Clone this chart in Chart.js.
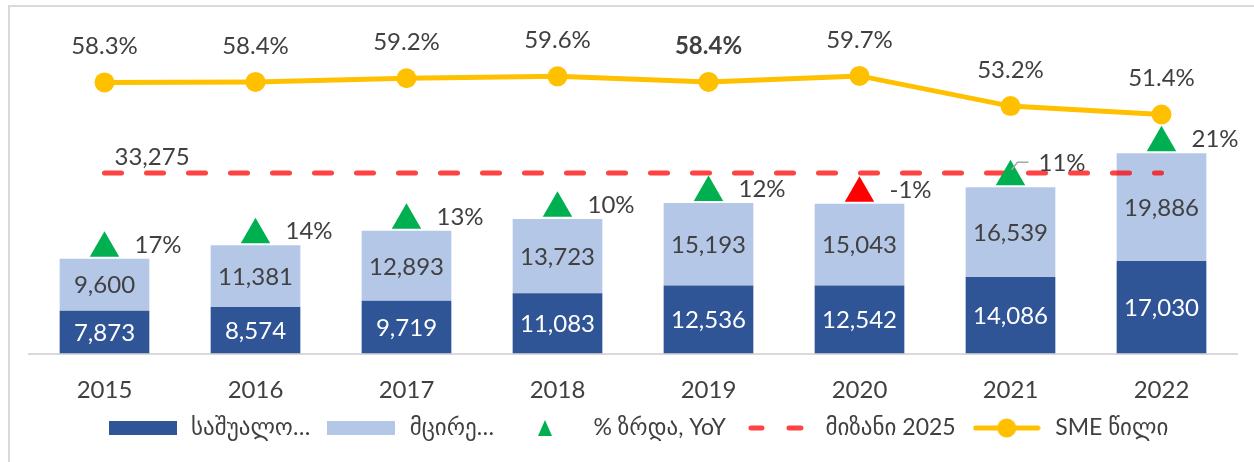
<!DOCTYPE html>
<html><head><meta charset="utf-8">
<script src="https://cdn.jsdelivr.net/npm/chart.js@4.4.1/dist/chart.umd.min.js"></script>
<style>
html,body{margin:0;padding:0;background:#fff;}
#wrap{position:relative;width:1254px;height:462px;overflow:hidden;background:#fff;}
#frame{position:absolute;left:8px;top:5px;width:1400px;height:600px;border:2px solid #D9D9D9;box-sizing:border-box;}
#c{position:absolute;left:0;top:0;}
</style></head><body>
<div id="wrap"><div id="frame"></div><canvas id="c" width="1254" height="462"></canvas></div>
<script>
// ---- data ----
const years = ['2015', '2016', '2017', '2018', '2019', '2020', '2021', '2022'];
const mediumValues = [7873, 8574, 9719, 11083, 12536, 12542, 14086, 17030];
const smallValues = [9600, 11381, 12893, 13723, 15193, 15043, 16539, 19886];
const growthPct = [17, 14, 13, 10, 12, -1, 11, 21];
const target2025 = 33275;
const smeSharePct = [58.3, 58.4, 59.2, 59.6, 58.4, 59.7, 53.2, 51.4];
const seriesNames = ['საშუალო…', 'მცირე…', '% ზრდა, YoY', 'მიზანი 2025', 'SME წილი'];

// ---- styles ----
const FONT = "Lato, 'DejaVu Sans', sans-serif";
const TXT = '#404040';
const DARK = '#2F5597', LIGHT = '#B4C7E7', YELLOW = '#FFC000', TARGET_RED = 'rgba(255,0,0,0.74)';
const UP = '#00B050', DOWN = '#FF0000';
const MARKER_GAP = 1950; // marker sits just above the stacked bar

const totals = years.map((_, i) => mediumValues[i] + smallValues[i]);
const markerY = totals.map(t => t + MARKER_GAP);

function icon(w, h, draw) {
  const c = document.createElement('canvas');
  c.width = w; c.height = h;
  draw(c.getContext('2d'));
  return c;
}
const legendIcons = [
  icon(68, 14, g => { g.fillStyle = DARK; g.fillRect(0, 0, 68, 14); }),
  icon(68, 14, g => { g.fillStyle = LIGHT; g.fillRect(0, 0, 68, 14); }),
  icon(68, 18, g => { g.fillStyle = UP; g.beginPath(); g.moveTo(34, 1); g.lineTo(41, 17); g.lineTo(27, 17); g.closePath(); g.fill(); }),
  icon(68, 8, g => { g.strokeStyle = TARGET_RED; g.lineWidth = 5; g.lineCap = 'round'; g.beginPath(); g.moveTo(8, 4); g.lineTo(19, 4); g.moveTo(46, 4); g.lineTo(58, 4); g.stroke(); }),
  icon(68, 20, g => { g.strokeStyle = YELLOW; g.lineWidth = 5; g.lineCap = 'round'; g.beginPath(); g.moveTo(3, 10); g.lineTo(65, 10); g.stroke(); g.fillStyle = YELLOW; g.beginPath(); g.arc(34, 10, 9.5, 0, Math.PI * 2); g.fill(); })
];

const LABEL_SIZE = 24;
const labelPlugin = {
  id: 'labels',
  afterDatasetsDraw(chart) {
    const ctx = chart.ctx;
    ctx.save();
    ctx.textBaseline = 'middle';
    // bar labels
    [0, 1].forEach(di => {
      const meta = chart.getDatasetMeta(di);
      const vals = di === 0 ? mediumValues : smallValues;
      meta.data.forEach((el, i) => {
        ctx.font = `${LABEL_SIZE}px ${FONT}`;
        ctx.fillStyle = di === 0 ? '#FFFFFF' : TXT;
        ctx.textAlign = 'center';
        ctx.fillText(vals[i].toLocaleString('en-US'), el.x, (el.y + el.base) / 2 + 1);
      });
    });
    // growth labels
    const gm = chart.getDatasetMeta(2);
    gm.data.forEach((el, i) => {
      ctx.font = `${LABEL_SIZE}px ${FONT}`;
      ctx.fillStyle = TXT;
      ctx.textAlign = 'left';
      if (i === 6) {
        ctx.strokeStyle = '#A6A6A6';
        ctx.lineWidth = 1.5;
        ctx.beginPath();
        ctx.moveTo(el.x + 1, el.y - 7);
        ctx.lineTo(el.x + 7, el.y - 14.5);
        ctx.lineTo(el.x + 18, el.y - 14.5);
        ctx.stroke();
        ctx.fillText(growthPct[i] + '%', el.x + 28, el.y - 14);
      } else {
        ctx.fillText(growthPct[i] + '%', el.x + 30, el.y - 3);
      }
    });
    // target label
    const tm = chart.getDatasetMeta(3);
    const t0 = tm.data[0];
    ctx.font = `${LABEL_SIZE}px ${FONT}`;
    ctx.fillStyle = TXT;
    ctx.textAlign = 'left';
    ctx.fillText(target2025.toLocaleString('en-US'), t0.x + 10, t0.y - 16);
    // SME share labels
    const sm = chart.getDatasetMeta(4);
    sm.data.forEach((el, i) => {
      ctx.font = (i === 4 ? 'bold ' : '') + `${LABEL_SIZE}px ${FONT}`;
      ctx.fillStyle = TXT;
      ctx.textAlign = 'center';
      ctx.fillText(smeSharePct[i].toFixed(1) + '%', el.x, el.y - 36);
    });
    ctx.restore();
  }
};

new Chart(document.getElementById('c'), {
  data: {
    labels: years,
    datasets: [
      { type: 'bar', label: seriesNames[0], data: mediumValues, backgroundColor: DARK, stack: 'sme', yAxisID: 'y', order: 4, categoryPercentage: 0.6, barPercentage: 0.99 },
      { type: 'bar', label: seriesNames[1], data: smallValues, backgroundColor: LIGHT, stack: 'sme', yAxisID: 'y', order: 5, categoryPercentage: 0.6, barPercentage: 0.99 },
      { type: 'line', label: seriesNames[2], data: markerY, stack: 'marker', yAxisID: 'y', showLine: false, order: 2,
        pointStyle: 'triangle', pointRadius: 17, pointBorderWidth: 0,
        pointBackgroundColor: growthPct.map(g => g >= 0 ? UP : DOWN), pointBorderColor: 'rgba(0,0,0,0)' },
      { type: 'line', label: seriesNames[3], data: years.map(() => target2025), stack: 'target', yAxisID: 'y', order: 3,
        borderColor: TARGET_RED, borderWidth: 5, borderDash: [17, 25], borderCapStyle: 'round', pointRadius: 0, fill: false },
      { type: 'line', label: seriesNames[4], data: smeSharePct, yAxisID: 'y1', order: 1,
        borderColor: YELLOW, borderWidth: 5, pointRadius: 10, pointBackgroundColor: YELLOW, pointBorderColor: YELLOW, pointBorderWidth: 0, fill: false, tension: 0 }
    ]
  },
  options: {
    responsive: false,
    animation: false,
    devicePixelRatio: 1,
    events: [],
    layout: { padding: { left: 29, right: 9, top: 28, bottom: 12.5 } },
    scales: {
      x: {
        stacked: true,
        grid: { display: false, drawTicks: false },
        border: { display: true, color: '#D9D9D9', width: 2 },
        ticks: { color: TXT, font: { family: FONT, size: 24 }, padding: 22.5 },
        afterFit(scale) { scale.height = 49; }
      },
      y: { stacked: true, display: false, min: 0, max: 60000 },
      y1: { display: false, min: 0, max: 70 }
    },
    plugins: {
      tooltip: { enabled: false },
      legend: {
        position: 'bottom',
        labels: {
          usePointStyle: true,
          pointStyleWidth: 74,
          padding: 14,
          color: TXT,
          font: { family: FONT, size: 23 },
          generateLabels: () => seriesNames.map((name, i) => ({
            text: name, pointStyle: legendIcons[i], fontColor: TXT, datasetIndex: i,
            hidden: false, lineWidth: 0, strokeStyle: 'rgba(0,0,0,0)', fillStyle: 'rgba(0,0,0,0)'
          }))
        }
      }
    }
  },
  plugins: [labelPlugin]
});
</script>
</body></html>
